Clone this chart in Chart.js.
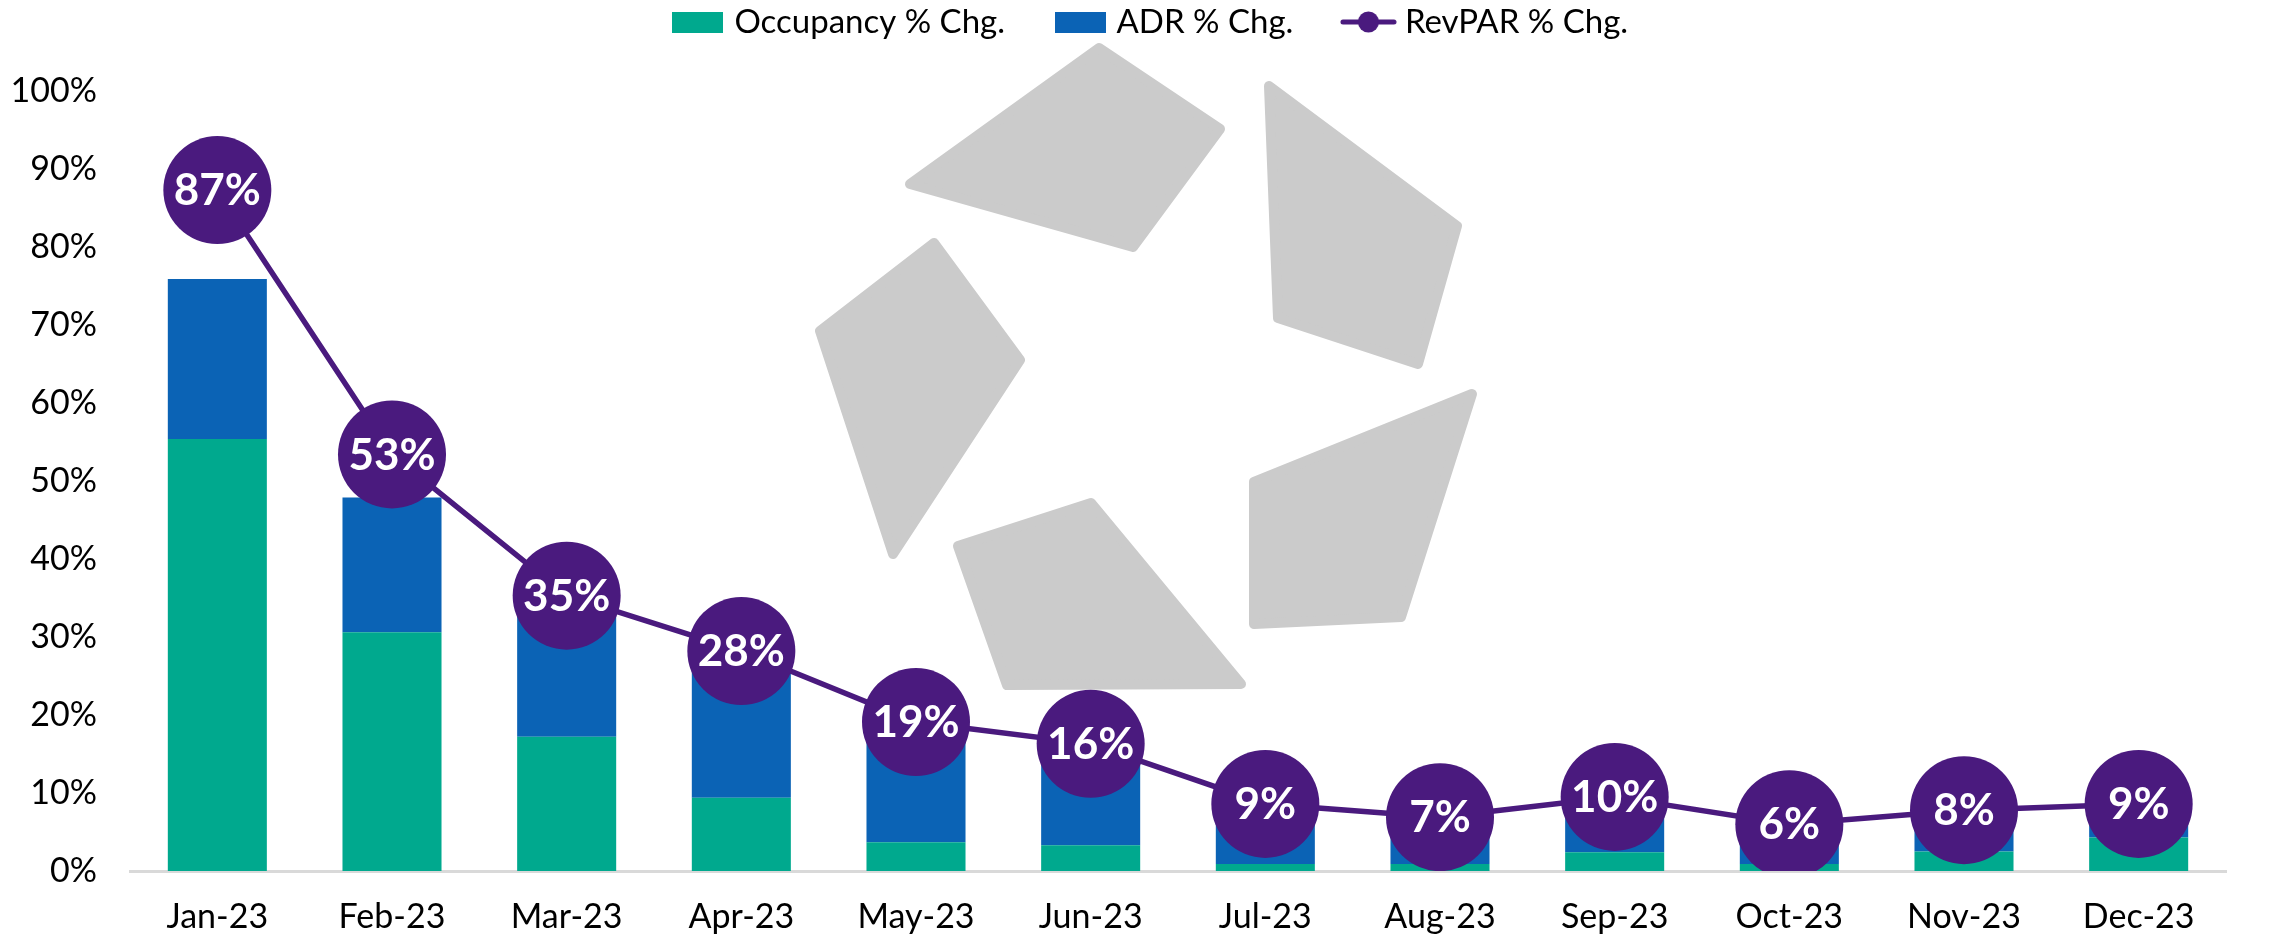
<!DOCTYPE html>
<html>
<head>
<meta charset="utf-8">
<script src="https://cdn.jsdelivr.net/npm/chart.js@4.4.1/dist/chart.umd.min.js"></script>
<style>
  html, body { margin: 0; padding: 0; background: #ffffff; }
  #wrap { width: 2280px; height: 937px; position: relative; }
</style>
</head>
<body>
<div id="wrap"><canvas id="chart" width="2280" height="937"></canvas></div>
<script>
// ---- data ----
const categories = ['Jan-23','Feb-23','Mar-23','Apr-23','May-23','Jun-23','Jul-23','Aug-23','Sep-23','Oct-23','Nov-23','Dec-23'];
const occupancyChg = [55.4, 30.6, 17.2, 9.4, 3.7, 3.3, 0.9, 0.9, 2.4, 0.9, 2.5, 4.3];
const adrChg = [20.5, 17.3, 15.7, 17.1, 14.8, 12.6, 7.6, 5.9, 6.9, 5.0, 5.2, 4.1];
const revparChg = [87.3, 53.4, 35.3, 28.2, 19.1, 16.3, 8.6, 6.9, 9.5, 6.0, 7.8, 8.6];
const seriesNames = ['Occupancy % Chg.', 'ADR % Chg.', 'RevPAR % Chg.'];
const yTicks = [0, 10, 20, 30, 40, 50, 60, 70, 80, 90, 100];

// ---- styles ----
const GREEN = '#00A98E';
const BLUE = '#0B63B5';
const PURPLE = '#4A1A7E';
const LOGO_GREY = '#CBCBCB';
const FONT = 'Lato';

// watermark logo (decoration, canvas pixels)
const logoShapes = [
  [[910,184],[1099,48],[1220,129],[1133,247]],
  [[1269,86],[1457,226],[1418,364],[1278,318]],
  [[820,331],[934,243],[1020,360],[893,554]],
  [[1472,394],[1401,617],[1254,624],[1254,482]],
  [[958,546],[1091,503],[1241,684],[1007,685]]
];

function makeRectIcon(color) {
  const c = document.createElement('canvas');
  c.width = 51; c.height = 21;
  const g = c.getContext('2d');
  g.fillStyle = color; g.fillRect(0, 0, 51, 21);
  return c;
}
function makeLineIcon(color) {
  const c = document.createElement('canvas');
  c.width = 57; c.height = 24;
  const g = c.getContext('2d');
  g.strokeStyle = color; g.lineWidth = 5; g.lineCap = 'round';
  g.beginPath(); g.moveTo(3, 12); g.lineTo(54, 12); g.stroke();
  g.fillStyle = color; g.beginPath(); g.arc(28.5, 12, 10.5, 0, Math.PI * 2); g.fill();
  return c;
}
const legendIcons = [makeRectIcon(GREEN), makeRectIcon(BLUE), makeLineIcon(PURPLE)];

const logoPlugin = {
  id: 'logo',
  beforeDatasetsDraw(chart) {
    const ctx = chart.ctx;
    ctx.save();
    ctx.fillStyle = LOGO_GREY;
    ctx.strokeStyle = LOGO_GREY;
    ctx.lineWidth = 10;
    ctx.lineJoin = 'round';
    logoShapes.forEach(pts => {
      ctx.beginPath();
      pts.forEach((p, i) => i ? ctx.lineTo(p[0], p[1]) : ctx.moveTo(p[0], p[1]));
      ctx.closePath();
      ctx.fill();
      ctx.stroke();
    });
    ctx.restore();
  }
};

const labelPlugin = {
  id: 'revparLabels',
  afterDatasetsDraw(chart) {
    const ctx = chart.ctx;
    const meta = chart.getDatasetMeta(2);
    ctx.save();
    ctx.fillStyle = '#ffffff';
    ctx.font = 'bold 44px ' + FONT;
    ctx.textAlign = 'center';
    ctx.textBaseline = 'middle';
    meta.data.forEach((pt, i) => {
      ctx.fillText(Math.round(revparChg[i]) + '%', pt.x, pt.y + 1);
    });
    ctx.restore();
  }
};

new Chart(document.getElementById('chart'), {
  data: {
    labels: categories,
    datasets: [
      { type: 'bar', label: seriesNames[0], data: occupancyChg, backgroundColor: GREEN, stack: 's', order: 1,
        barPercentage: 0.567, categoryPercentage: 1.0 },
      { type: 'bar', label: seriesNames[1], data: adrChg, backgroundColor: BLUE, stack: 's', order: 1,
        barPercentage: 0.567, categoryPercentage: 1.0 },
      { type: 'line', label: seriesNames[2], data: revparChg, borderColor: PURPLE, backgroundColor: PURPLE,
        borderWidth: 5.5, pointRadius: 54, pointHoverRadius: 54, pointBackgroundColor: PURPLE,
        pointBorderWidth: 0, tension: 0, order: 0 }
    ]
  },
  options: {
    responsive: false,
    animation: false,
    events: [],
    layout: { padding: { top: -49.5, left: 36, right: 10, bottom: 0 } },
    plugins: {
      tooltip: { enabled: false },
      legend: {
        position: 'top',
        labels: {
          usePointStyle: true,
          pointStyleWidth: 40,
          padding: 55,
          color: '#000000',
          font: { family: FONT, size: 33 },
          generateLabels(chart) {
            const items = Chart.defaults.plugins.legend.labels.generateLabels(chart);
            items.forEach(it => { it.pointStyle = legendIcons[it.datasetIndex]; });
            return items;
          },
          sort: (a, b) => a.datasetIndex - b.datasetIndex
        }
      }
    },
    scales: {
      x: {
        stacked: true,
        grid: { display: false, drawTicks: false },
        border: { display: true, color: '#D9D9D9', width: 3 },
        ticks: { color: '#000000', font: { family: FONT, size: 34 }, padding: 26, maxRotation: 0 },
        afterFit(s) { s.height = 66; }
      },
      xTop: {
        type: 'category',
        position: 'top',
        display: true,
        grid: { display: false, drawTicks: false },
        border: { display: false },
        ticks: { display: false },
        afterFit(s) { s.height = 42.5; }
      },
      y: {
        stacked: true,
        min: 0,
        max: 100,
        afterBuildTicks(s) { s.ticks = yTicks.map(v => ({ value: v })); },
        grid: { display: false, drawTicks: false },
        border: { display: false },
        ticks: { color: '#000000', font: { family: FONT, size: 34 }, padding: 33, callback: v => v + '%' },
        afterFit(s) {
          s.width = 94;
          // let the widest tick label ("100%") extend past the axis box without being clipped
          s._computeLabelArea = () => null;
        }
      }
    }
  },
  plugins: [logoPlugin, labelPlugin]
});
</script>
</body>
</html>
